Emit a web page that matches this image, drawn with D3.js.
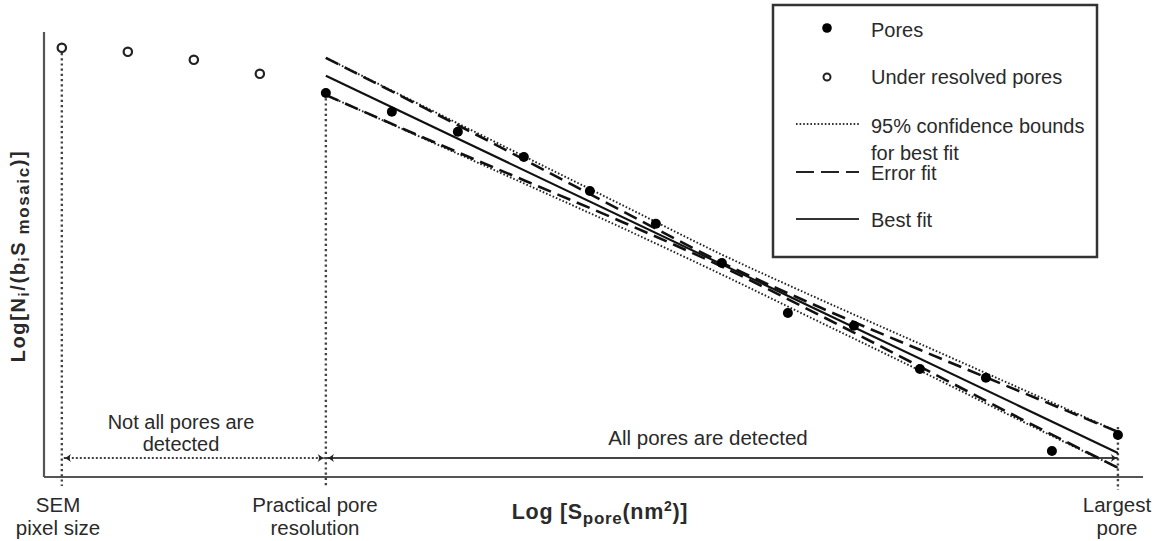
<!DOCTYPE html>
<meta charset="utf-8">
<script src="https://d3js.org/d3.v7.min.js"></script>
<style>
	body{
		margin:0;
		background:#fff;
		font-family:'Liberation Sans', Arial, sans-serif;
	}
	text{
		fill:#2a2a2a;
	}
</style>
<div id="chart"></div>
<script>
	// pore size classes (log scale index) and log densities
	var underResolvedX = [0,1,2,3]
	var underResolvedY = [10.73,10.63,10.43,10.08]
	var poresX = [4,5,6,7,8,9,10,11,12,13,14,15,16]
	var poresY = [9.60,9.13,8.63,8.00,7.15,6.33,5.35,4.10,3.78,2.70,2.48,0.65,1.05]

	// fitted lines
	var bestFitX = [4,16]
	var bestFitY = [10.03,0.60]
	var boundX = [4,5.5,7,8.5,10,11.5,13,14.5,16]
	var ciUpperY = [10.48,9.25,8.02,6.79,5.56,4.43,3.33,2.23,1.13]
	var ciLowerY = [9.55,8.45,7.34,6.22,5.06,3.86,2.66,1.43,0.23]
	var errUpperY = [10.48,9.22,7.94,6.64,5.36,4.23,3.18,2.15,1.13]
	var errLowerY = [9.55,8.47,7.42,6.37,5.26,4.03,2.76,1.48,0.23]

	// landmarks on the x axis
	var landmarkX = [0,4,16]
	var landmarkLabels = [["SEM","pixel size"],["Practical pore","resolution"],["Largest","pore"]]
	var detectY = 0.475

	var legendItems = ["Pores","Under resolved pores","95% confidence bounds","Error fit","Best fit"]

	var w = 1154
	var h = 541
	var svg = d3.select("#chart").append("svg").attr("width",w).attr("height",h)

	var xScale = d3.scaleLinear().domain([-0.27,16.38]).range([44,1143])
	var yScale = d3.scaleLinear().domain([0,11.125]).range([477,32])

	var defs = svg.append("defs")
	function arrowMarker(id,orient){
		defs.append("marker").attr("id",id)
			.attr("viewBox","-1 -5 10 10")
			.attr("refX",8).attr("refY",0)
			.attr("markerWidth",9).attr("markerHeight",9)
			.attr("markerUnits","userSpaceOnUse")
			.attr("orient",orient)
			.append("path").attr("d","M0,-4.5 Q4,-1 8,0 Q4,1 0,4.5 Q3,0 0,-4.5 Z").attr("fill","#222")
	}
	arrowMarker("arrEnd","auto")
	arrowMarker("arrStart","auto-start-reverse")

	// axes (no ticks)
	svg.append("line").attr("x1",xScale(-0.27)).attr("x2",xScale(-0.27))
		.attr("y1",yScale(11.125)).attr("y2",yScale(0))
		.attr("stroke","#555").attr("stroke-width",2.2)
	svg.append("line").attr("x1",xScale(-0.27)).attr("x2",xScale(16.38))
		.attr("y1",yScale(0)).attr("y2",yScale(0))
		.attr("stroke","#555").attr("stroke-width",2.2)

	// vertical dotted guides
	var guideTop = [underResolvedY[0],poresY[0],poresY[12]+0.2]
	for(var g in landmarkX){
		svg.append("line")
			.attr("x1",xScale(landmarkX[g])).attr("x2",xScale(landmarkX[g]))
			.attr("y1",yScale(guideTop[g])).attr("y2",yScale(0)+(g==2?13:9))
			.attr("stroke","#444").attr("stroke-width",2.4).attr("stroke-dasharray","2.2,3")
	}

	// detection arrows
	svg.append("line").attr("x1",xScale(0)+2).attr("x2",xScale(4)-1)
		.attr("y1",yScale(detectY)).attr("y2",yScale(detectY))
		.attr("stroke","#444").attr("stroke-width",1.8).attr("stroke-dasharray","2,2")
		.attr("marker-start","url(#arrStart)").attr("marker-end","url(#arrEnd)")
	svg.append("line").attr("x1",xScale(4)+1).attr("x2",xScale(16))
		.attr("y1",yScale(detectY)).attr("y2",yScale(detectY))
		.attr("stroke","#444").attr("stroke-width",2)
		.attr("marker-start","url(#arrStart)").attr("marker-end","url(#arrEnd)")

	var line = d3.line().x(function(d){return xScale(d[0])}).y(function(d){return yScale(d[1])}).curve(d3.curveMonotoneX)
	function pairs(xs,ys){ return xs.map(function(x,i){return [x,ys[i]]}) }

	// confidence bounds (dotted)
	;[ciUpperY,ciLowerY].forEach(function(ys){
		svg.append("path").attr("d",line(pairs(boundX,ys)))
			.attr("fill","none").attr("stroke","#222").attr("stroke-width",1.9).attr("stroke-dasharray","1.6,2")
	})
	// error fit (dashed)
	;[errUpperY,errLowerY].forEach(function(ys){
		svg.append("path").attr("d",line(pairs(boundX,ys)))
			.attr("fill","none").attr("stroke","#111").attr("stroke-width",2.6).attr("stroke-dasharray","14,7")
	})
	// best fit
	svg.append("path").attr("d",d3.line()(pairs(bestFitX,bestFitY).map(function(d){return [xScale(d[0]),yScale(d[1])]})))
		.attr("fill","none").attr("stroke","#111").attr("stroke-width",2.1)

	// points
	svg.selectAll(".open").data(underResolvedX).enter().append("circle")
		.attr("cx",function(d){return xScale(d)})
		.attr("cy",function(d,i){return yScale(underResolvedY[i])})
		.attr("r",4.2).attr("fill","#fff").attr("stroke","#222").attr("stroke-width",2.2)
	svg.selectAll(".pore").data(poresX).enter().append("circle")
		.attr("cx",function(d){return xScale(d)})
		.attr("cy",function(d,i){return yScale(poresY[i])})
		.attr("r",5).attr("fill","#000")

	// region labels
	svg.append("text").text("Not all pores are").attr("x",181).attr("y",429).attr("text-anchor","middle").attr("font-size",20)
	svg.append("text").text("detected").attr("x",181).attr("y",451).attr("text-anchor","middle").attr("font-size",20)
	svg.append("text").text("All pores are detected").attr("x",708).attr("y",445).attr("text-anchor","middle").attr("font-size",20.5)

	// landmark labels
	var labelCx = [58,315,1117]
	for(var l in landmarkLabels){
		svg.append("text").text(landmarkLabels[l][0]).attr("x",labelCx[l]).attr("y",512).attr("text-anchor","middle").attr("font-size",20.5)
		svg.append("text").text(landmarkLabels[l][1]).attr("x",labelCx[l]).attr("y",535).attr("text-anchor","middle").attr("font-size",20.5)
	}

	// axis titles
	var xt = svg.append("text").attr("x",600).attr("y",519).attr("text-anchor","middle")
		.attr("font-size",21.5).attr("font-weight","bold").attr("letter-spacing",0.7)
	xt.append("tspan").text("Log [S")
	xt.append("tspan").text("pore").attr("font-size",17).attr("dy",5)
	xt.append("tspan").text("(nm").attr("dy",-5)
	xt.append("tspan").text("2").attr("font-size",14).attr("dy",-8)
	xt.append("tspan").text(")]").attr("dy",8)

	var yt = svg.append("text").attr("transform","translate(25,256) rotate(-90)").attr("text-anchor","middle")
		.attr("font-size",20).attr("font-weight","bold").attr("letter-spacing",1.6)
	yt.append("tspan").text("Log[N")
	yt.append("tspan").text("i").attr("font-size",15).attr("dy",4)
	yt.append("tspan").text("/(b").attr("dy",-4)
	yt.append("tspan").text("i").attr("font-size",15).attr("dy",4)
	yt.append("tspan").text("S").attr("dy",-4)
	yt.append("tspan").text(" mosaic").attr("font-size",17).attr("dy",4)
	yt.append("tspan").text(")]").attr("dy",-4)

	// legend
	var lg = svg.append("g")
	lg.append("rect").attr("x",773).attr("y",5).attr("width",324).attr("height",252)
		.attr("fill","#fff").attr("stroke","#333").attr("stroke-width",2.5)
	var tx = 871
	var fs = 20
	lg.append("circle").attr("cx",827).attr("cy",28).attr("r",4.8).attr("fill","#000")
	lg.append("text").text(legendItems[0]).attr("x",tx).attr("y",37).attr("font-size",fs)
	lg.append("circle").attr("cx",827).attr("cy",77).attr("r",3.5).attr("fill","#fff").attr("stroke","#222").attr("stroke-width",2)
	lg.append("text").text(legendItems[1]).attr("x",tx).attr("y",84).attr("font-size",fs)
	lg.append("line").attr("x1",796).attr("x2",859).attr("y1",124).attr("y2",124)
		.attr("stroke","#333").attr("stroke-width",1.8).attr("stroke-dasharray","1.6,2")
	lg.append("text").text(legendItems[2]).attr("x",tx).attr("y",133).attr("font-size",fs)
	lg.append("text").text("for best fit").attr("x",tx).attr("y",160).attr("font-size",fs)
	lg.append("line").attr("x1",796).attr("x2",859).attr("y1",172).attr("y2",172)
		.attr("stroke","#222").attr("stroke-width",2.2).attr("stroke-dasharray","18,7")
	lg.append("text").text(legendItems[3]).attr("x",tx).attr("y",180).attr("font-size",fs)
	lg.append("line").attr("x1",796).attr("x2",859).attr("y1",219).attr("y2",219)
		.attr("stroke","#333").attr("stroke-width",2)
	lg.append("text").text(legendItems[4]).attr("x",tx).attr("y",227).attr("font-size",fs)
</script>
